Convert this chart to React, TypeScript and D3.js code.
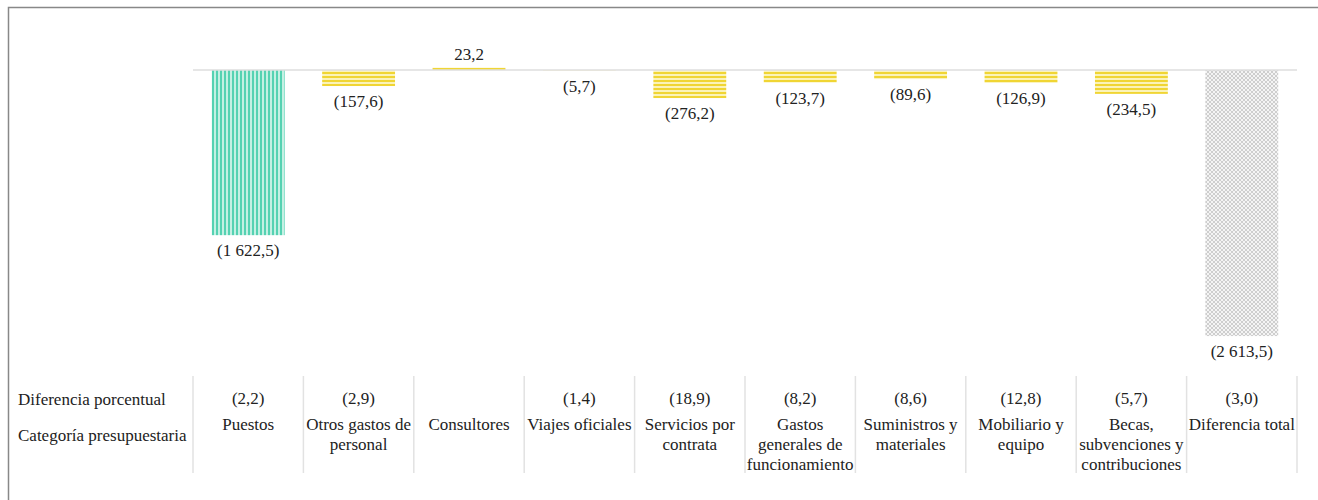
import React from "react";
import * as d3 from "d3";

const categories = [
  "Puestos",
  "Otros gastos de personal",
  "Consultores",
  "Viajes oficiales",
  "Servicios por contrata",
  "Gastos generales de funcionamiento",
  "Suministros y materiales",
  "Mobiliario y equipo",
  "Becas, subvenciones y contribuciones",
  "Diferencia total",
];
const categoryLines = [
  ["Puestos"],
  ["Otros gastos de", "personal"],
  ["Consultores"],
  ["Viajes oficiales"],
  ["Servicios por", "contrata"],
  ["Gastos", "generales de", "funcionamiento"],
  ["Suministros y", "materiales"],
  ["Mobiliario y", "equipo"],
  ["Becas,", "subvenciones y", "contribuciones"],
  ["Diferencia total"],
];
const values = [-1622.5, -157.6, 23.2, -5.7, -276.2, -123.7, -89.6, -126.9, -234.5, -2613.5];
const percentDiff = ["(2,2)", "(2,9)", "", "(1,4)", "(18,9)", "(8,2)", "(8,6)", "(12,8)", "(5,7)", "(3,0)"];
const kinds = ["post", "nonpost", "nonpost", "nonpost", "nonpost", "nonpost", "nonpost", "nonpost", "nonpost", "total"];
const rowLabels = ["Diferencia porcentual", "Categoría presupuestaria"];

const locale = d3.formatLocale({ decimal: ",", thousands: " ", grouping: [3], currency: ["", ""] });
const fmt = locale.format(",.1f");
const label = (v: number) => (v < 0 ? `(${fmt(-v)})` : fmt(v));

export default function App() {
  const W = 1318;
  const H = 500;
  const x = d3
    .scaleBand<string>()
    .domain(categories)
    .range([193, 1297])
    .paddingInner(0.34)
    .paddingOuter(0.17);
  const k = 0.1018;
  const y = d3.scaleLinear().domain([-2650, 50]).range([70 + 2650 * k, 70 - 50 * k]);
  const step = x.step();
  const font = "'Liberation Serif', 'Times New Roman', Times, serif";
  const fill = (kind: string) =>
    kind === "post" ? "url(#pPost)" : kind === "total" ? "url(#pTotal)" : "url(#pNon)";

  return (
    <svg
      width={W}
      height={H}
      style={{ position: "absolute", left: 0, top: 0, fontFamily: font, fontSize: 17 }}
    >
      <defs>
        <pattern id="pPost" width={4} height={4} patternUnits="userSpaceOnUse">
          <rect width={4} height={4} fill="#c4f0e3" />
          <rect width={2} height={4} fill="#55d2b2" />
        </pattern>
        <pattern id="pNon" width={4} height={4} patternUnits="userSpaceOnUse">
          <rect width={4} height={4} fill="#fbf3b8" />
          <rect width={4} height={2} fill="#f0d534" />
        </pattern>
        <pattern id="pTotal" width={4} height={4} patternUnits="userSpaceOnUse">
          <rect width={4} height={4} fill="#f4f4f4" />
          <path d="M0,0 L4,4 M4,0 L0,4" stroke="#c4c4c4" strokeWidth={0.8} />
        </pattern>
      </defs>
      <rect x={8.5} y={7.5} width={1320} height={500} fill="white" stroke="#888" strokeWidth={1.5} />

      {categories.map((c, i) => {
        const v = values[i];
        const x0 = x(c)!;
        const top = y(Math.max(0, v));
        const bot = y(Math.min(0, v));
        const cx = x0 + x.bandwidth() / 2;
        return (
          <g key={c}>
            <rect x={x0} y={top} width={x.bandwidth()} height={bot - top} fill={fill(kinds[i])} />
            <text x={cx} y={v < 0 ? bot + 21 : top - 8} textAnchor="middle" fill="#222">
              {label(v)}
            </text>
          </g>
        );
      })}

      <line x1={193} x2={1297} y1={y(0)} y2={y(0)} stroke="#dedede" strokeWidth={1.5} />

      {d3.range(categories.length + 1).map((i) => {
        const lx = 193 + i * step;
        return <line key={i} x1={lx} x2={lx} y1={376} y2={473} stroke="#e2e2e2" strokeWidth={1.5} />;
      })}

      <text x={18} y={405} fill="#222">{rowLabels[0]}</text>
      <text x={18} y={441} fill="#222">{rowLabels[1]}</text>

      {categories.map((c, i) => {
        const cx = x(c)! + x.bandwidth() / 2;
        return (
          <g key={"t" + c}>
            <text x={cx} y={404} textAnchor="middle" fill="#222">{percentDiff[i]}</text>
            {categoryLines[i].map((ln, j) => (
              <text key={j} x={cx} y={430 + j * 20} textAnchor="middle" fill="#222">{ln}</text>
            ))}
          </g>
        );
      })}
    </svg>
  );
}
